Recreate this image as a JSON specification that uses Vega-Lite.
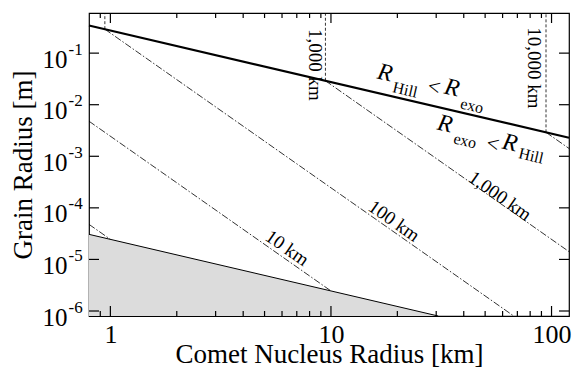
{
  "$schema": "https://vega.github.io/schema/vega-lite/v6.json",
  "width": 480,
  "height": 303,
  "autosize": {"type": "none"},
  "padding": {"left": 89, "top": 13, "right": 4, "bottom": 55},
  "background": "white",
  "config": {
    "view": {"stroke": "black", "strokeWidth": 1.2},
    "axis": {"grid": false, "domain": false, "ticks": false, "labelColor": "black", "titleColor": "black", "labelFont": "Liberation Serif", "titleFont": "Liberation Serif", "titleFontWeight": "normal", "labelFlush": false, "labelOverlap": false},
    "text": {"font": "Liberation Serif", "color": "black"},
    "tick": {"color": "black", "opacity": 1, "thickness": 1.2}
  },
  "datasets": {
    "hill": [{"R": 0.8, "a": 0.34375}, {"R": 120, "a": 0.0022917}],
    "low": [{"R": 0.8, "a": 3.0625e-5, "b": 8e-7}, {"R": 30.625, "a": 8e-7, "b": 8e-7}],
    "dd": [
      {"D": "1", "R": 0.8, "a": 4.785e-5}, {"D": "1", "R": 1, "a": 2.45e-5},
      {"D": "10", "R": 0.8, "a": 4.785e-3}, {"D": "10", "R": 10, "a": 2.45e-6},
      {"D": "100", "R": 0.9439, "a": 0.2913}, {"D": "100", "R": 67.4, "a": 8e-7},
      {"D": "1000", "R": 9.439, "a": 0.02913}, {"D": "1000", "R": 120, "a": 1.4178e-5},
      {"D": "10000", "R": 94.39, "a": 0.002913}, {"D": "10000", "R": 120, "a": 1.4178e-3}
    ],
    "vert": [
      {"D": "100", "R": 0.9439, "a": 0.2913}, {"D": "100", "R": 0.9439, "a": 0.6},
      {"D": "1000", "R": 9.439, "a": 0.02913}, {"D": "1000", "R": 9.439, "a": 0.6},
      {"D": "10000", "R": 94.39, "a": 0.002913}, {"D": "10000", "R": 94.39, "a": 0.6}
    ],
    "xmaj": [{"v": 1}, {"v": 10}, {"v": 100}],
    "xmin": [{"v": 0.9}, {"v": 2}, {"v": 3}, {"v": 4}, {"v": 5}, {"v": 6}, {"v": 7}, {"v": 8}, {"v": 9}, {"v": 20}, {"v": 30}, {"v": 40}, {"v": 50}, {"v": 60}, {"v": 70}, {"v": 80}, {"v": 90}],
    "ymaj": [{"v": 1e-6}, {"v": 1e-5}, {"v": 1e-4}, {"v": 1e-3}, {"v": 1e-2}, {"v": 1e-1}],
    "labels": [
      {"R": 17.58, "a": 0.04119, "t": "R", "k": "R"},
      {"R": 21.67, "a": 0.01929, "t": "Hill", "k": "sub"},
      {"R": 29.32, "a": 0.02205, "t": "<", "k": "lt"},
      {"R": 35.38, "a": 0.02109, "t": "R", "k": "R"},
      {"R": 43.59, "a": 0.009439, "t": "exo", "k": "sub"},
      {"R": 32.88, "a": 0.004224, "t": "R", "k": "R"},
      {"R": 40.53, "a": 0.001978, "t": "exo", "k": "sub"},
      {"R": 54.27, "a": 0.00173, "t": "<", "k": "lt"},
      {"R": 64.8, "a": 0.00181, "t": "R", "k": "R"},
      {"R": 80.7, "a": 0.001013, "t": "Hill", "k": "sub"},
      {"R": 6.321, "a": 1.665e-5, "t": "10 km", "k": "diag"},
      {"R": 19.31, "a": 5.561e-5, "t": "100 km", "k": "diag"},
      {"R": 58.4, "a": 1.697e-4, "t": "1,000 km", "k": "diag"},
      {"R": 8.466, "a": 0.05887, "t": "1,000 km", "k": "vert"},
      {"R": 83.26, "a": 0.05148, "t": "10,000 km", "k": "vert"}
    ]
  },
  "resolve": {"axis": {"x": "independent", "y": "independent"}},
  "layer": [
    {
      "data": {"name": "low"},
      "mark": {"type": "area", "fill": "#dcdcdc"},
      "encoding": {
        "x": {"field": "R", "type": "quantitative", "scale": {"type": "log", "domain": [0.8, 120], "nice": false},
          "axis": {"orient": "bottom", "values": [1, 10, 100], "format": "d", "labelFontSize": 26, "labelBaseline": "alphabetic", "labelPadding": 26, "title": "Comet Nucleus Radius [km]", "titleFontSize": 27, "titleBaseline": "alphabetic", "titlePadding": 15}},
        "y": {"field": "a", "type": "quantitative", "scale": {"type": "log", "domain": [8e-7, 0.6], "nice": false},
          "axis": {"orient": "left", "values": [1e-6, 1e-5, 1e-4, 1e-3, 1e-2, 1e-1], "labelExpr": "'10'", "labelFontSize": 25, "labelAlign": "right", "labelBaseline": "alphabetic", "labelPadding": 22, "labelOffset": 14, "title": "Grain Radius [m]", "titleFontSize": 27, "titleBaseline": "alphabetic", "titlePadding": 11}},
        "y2": {"field": "b"}
      }
    },
    {
      "data": {"name": "low"},
      "mark": {"type": "line", "color": "black", "strokeWidth": 1},
      "encoding": {
        "x": {"field": "R", "type": "quantitative", "scale": {"type": "log", "domain": [0.8, 120], "nice": false}, "axis": null},
        "y": {"field": "a", "type": "quantitative", "scale": {"type": "log", "domain": [8e-7, 0.6], "nice": false},
          "axis": {"orient": "left", "values": [1e-6, 1e-5, 1e-4, 1e-3, 1e-2, 1e-1], "labelExpr": "'-' + round(-log(datum.value)/log(10))", "labelFontSize": 17, "labelAlign": "left", "labelBaseline": "alphabetic", "labelPadding": 21, "labelOffset": 1, "title": null}}
      }
    },
    {
      "data": {"name": "hill"},
      "mark": {"type": "line", "color": "black", "strokeWidth": 2.2},
      "encoding": {
        "x": {"field": "R", "type": "quantitative", "scale": {"type": "log", "domain": [0.8, 120], "nice": false}, "axis": null},
        "y": {"field": "a", "type": "quantitative", "scale": {"type": "log", "domain": [8e-7, 0.6], "nice": false}, "axis": null}
      }
    },
    {
      "data": {"name": "dd"},
      "mark": {"type": "line", "color": "black", "strokeWidth": 0.8, "strokeDash": [7, 2, 1.5, 2]},
      "encoding": {
        "x": {"field": "R", "type": "quantitative", "scale": {"type": "log", "domain": [0.8, 120], "nice": false}, "axis": null},
        "y": {"field": "a", "type": "quantitative", "scale": {"type": "log", "domain": [8e-7, 0.6], "nice": false}, "axis": null},
        "detail": {"field": "D", "type": "nominal"}
      }
    },
    {
      "data": {"name": "vert"},
      "mark": {"type": "line", "color": "black", "strokeWidth": 0.8, "strokeDash": [3, 2]},
      "encoding": {
        "x": {"field": "R", "type": "quantitative", "scale": {"type": "log", "domain": [0.8, 120], "nice": false}, "axis": null},
        "y": {"field": "a", "type": "quantitative", "scale": {"type": "log", "domain": [8e-7, 0.6], "nice": false}, "axis": null},
        "detail": {"field": "D", "type": "nominal"},
        "order": {"field": "a", "type": "quantitative"}
      }
    },
    {
      "data": {"name": "xmaj"},
      "mark": {"type": "tick", "orient": "vertical", "size": 20, "clip": true},
      "encoding": {
        "x": {"field": "v", "type": "quantitative", "scale": {"type": "log", "domain": [0.8, 120], "nice": false}, "axis": null},
        "y": {"datum": 8e-7, "type": "quantitative", "scale": {"type": "log", "domain": [8e-7, 0.6], "nice": false}, "axis": null}
      }
    },
    {
      "data": {"name": "xmaj"},
      "mark": {"type": "tick", "orient": "vertical", "size": 20, "clip": true},
      "encoding": {
        "x": {"field": "v", "type": "quantitative", "scale": {"type": "log", "domain": [0.8, 120], "nice": false}, "axis": null},
        "y": {"datum": 0.6, "type": "quantitative", "scale": {"type": "log", "domain": [8e-7, 0.6], "nice": false}, "axis": null}
      }
    },
    {
      "data": {"name": "xmin"},
      "mark": {"type": "tick", "orient": "vertical", "size": 10, "clip": true},
      "encoding": {
        "x": {"field": "v", "type": "quantitative", "scale": {"type": "log", "domain": [0.8, 120], "nice": false}, "axis": null},
        "y": {"datum": 8e-7, "type": "quantitative", "scale": {"type": "log", "domain": [8e-7, 0.6], "nice": false}, "axis": null}
      }
    },
    {
      "data": {"name": "xmin"},
      "mark": {"type": "tick", "orient": "vertical", "size": 10, "clip": true},
      "encoding": {
        "x": {"field": "v", "type": "quantitative", "scale": {"type": "log", "domain": [0.8, 120], "nice": false}, "axis": null},
        "y": {"datum": 0.6, "type": "quantitative", "scale": {"type": "log", "domain": [8e-7, 0.6], "nice": false}, "axis": null}
      }
    },
    {
      "data": {"name": "ymaj"},
      "mark": {"type": "tick", "orient": "horizontal", "size": 20, "clip": true},
      "encoding": {
        "y": {"field": "v", "type": "quantitative", "scale": {"type": "log", "domain": [8e-7, 0.6], "nice": false}, "axis": null},
        "x": {"datum": 0.8, "type": "quantitative", "scale": {"type": "log", "domain": [0.8, 120], "nice": false}, "axis": null}
      }
    },
    {
      "data": {"name": "ymaj"},
      "mark": {"type": "tick", "orient": "horizontal", "size": 20, "clip": true},
      "encoding": {
        "y": {"field": "v", "type": "quantitative", "scale": {"type": "log", "domain": [8e-7, 0.6], "nice": false}, "axis": null},
        "x": {"datum": 120, "type": "quantitative", "scale": {"type": "log", "domain": [0.8, 120], "nice": false}, "axis": null}
      }
    },
    {
      "data": {"name": "labels"},
      "transform": [{"filter": "datum.k === 'R'"}],
      "mark": {"type": "text", "fontSize": 24, "fontStyle": "italic", "angle": 13, "align": "center", "baseline": "middle"},
      "encoding": {
        "x": {"field": "R", "type": "quantitative", "scale": {"type": "log", "domain": [0.8, 120], "nice": false}, "axis": null},
        "y": {"field": "a", "type": "quantitative", "scale": {"type": "log", "domain": [8e-7, 0.6], "nice": false}, "axis": null},
        "text": {"field": "t"}
      }
    },
    {
      "data": {"name": "labels"},
      "transform": [{"filter": "datum.k === 'sub'"}],
      "mark": {"type": "text", "fontSize": 16, "angle": 13, "align": "center", "baseline": "middle"},
      "encoding": {
        "x": {"field": "R", "type": "quantitative", "scale": {"type": "log", "domain": [0.8, 120], "nice": false}, "axis": null},
        "y": {"field": "a", "type": "quantitative", "scale": {"type": "log", "domain": [8e-7, 0.6], "nice": false}, "axis": null},
        "text": {"field": "t"}
      }
    },
    {
      "data": {"name": "labels"},
      "transform": [{"filter": "datum.k === 'lt'"}],
      "mark": {"type": "text", "fontSize": 22, "angle": 13, "align": "center", "baseline": "middle"},
      "encoding": {
        "x": {"field": "R", "type": "quantitative", "scale": {"type": "log", "domain": [0.8, 120], "nice": false}, "axis": null},
        "y": {"field": "a", "type": "quantitative", "scale": {"type": "log", "domain": [8e-7, 0.6], "nice": false}, "axis": null},
        "text": {"field": "t"}
      }
    },
    {
      "data": {"name": "labels"},
      "transform": [{"filter": "datum.k === 'diag'"}],
      "mark": {"type": "text", "fontSize": 19, "angle": 35, "align": "center", "baseline": "middle"},
      "encoding": {
        "x": {"field": "R", "type": "quantitative", "scale": {"type": "log", "domain": [0.8, 120], "nice": false}, "axis": null},
        "y": {"field": "a", "type": "quantitative", "scale": {"type": "log", "domain": [8e-7, 0.6], "nice": false}, "axis": null},
        "text": {"field": "t"}
      }
    },
    {
      "data": {"name": "labels"},
      "transform": [{"filter": "datum.k === 'vert'"}],
      "mark": {"type": "text", "fontSize": 19, "angle": 90, "align": "center", "baseline": "middle"},
      "encoding": {
        "x": {"field": "R", "type": "quantitative", "scale": {"type": "log", "domain": [0.8, 120], "nice": false}, "axis": null},
        "y": {"field": "a", "type": "quantitative", "scale": {"type": "log", "domain": [8e-7, 0.6], "nice": false}, "axis": null},
        "text": {"field": "t"}
      }
    }
  ]
}
